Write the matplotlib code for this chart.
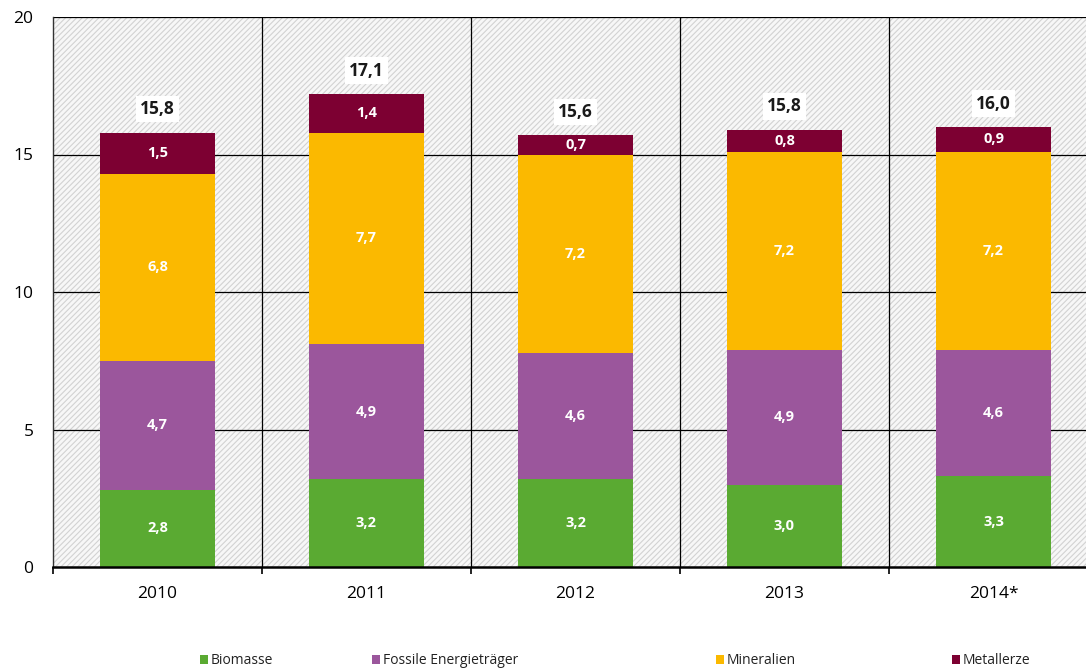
import matplotlib
matplotlib.use("Agg")
import matplotlib.pyplot as plt
from matplotlib.patches import Rectangle
import numpy as np

years = ["2010", "2011", "2012", "2013", "2014*"]
series_names = ["Biomasse", "Fossile Energieträger", "Mineralien", "Metallerze"]
biomasse = [2.8, 3.2, 3.2, 3.0, 3.3]
fossile = [4.7, 4.9, 4.6, 4.9, 4.6]
mineralien = [6.8, 7.7, 7.2, 7.2, 7.2]
metallerze = [1.5, 1.4, 0.7, 0.8, 0.9]
totals = [15.8, 17.1, 15.6, 15.8, 16.0]
yticks = [0, 5, 10, 15, 20]

colors = ["#5aaa32", "#9b569c", "#fbb900", "#7d0032"]
series = [biomasse, fossile, mineralien, metallerze]

plt.rcParams['font.family'] = ['Open Sans', 'DejaVu Sans']
plt.rcParams['hatch.linewidth'] = 0.8
plt.rcParams['hatch.color'] = '#d2d2d2'

fig = plt.figure(figsize=(10.86, 6.70), dpi=100)
ax = fig.add_axes([53/1086, 1-567/670, 1-53/1086, (567-17)/670])

x = np.arange(len(years))
xmax = (1086-53)/209 - 0.5
ax.set_xlim(-0.5, xmax)
ax.set_ylim(0, 20)

# hatched background
bg = Rectangle((0, 0), 1, 1, transform=ax.transAxes, facecolor='#f7f7f7',
               edgecolor='#d2d2d2', hatch='//////', linewidth=0, zorder=0)
ax.add_patch(bg)
ax.set_facecolor('white')

# grid
for yv in yticks[1:]:
    ax.axhline(yv, color='black', lw=0.9, zorder=1)
for b in np.arange(0.5, xmax, 1.0):
    ax.axvline(b, color='black', lw=0.9, zorder=1)

bottom = np.zeros(len(years))
for vals, c in zip(series, colors):
    vals = np.array(vals)
    ax.bar(x, vals, bottom=bottom, width=0.55, color=c, edgecolor='none', zorder=3)
    for xi, v, b0 in zip(x, vals, bottom):
        ax.text(xi, b0 + v/2, f"{v:.1f}".replace('.', ','), ha='center', va='center',
                color='white', fontsize=10.5, fontweight='bold', zorder=4)
    bottom += vals

for xi, t, top in zip(x, totals, bottom):
    ax.text(xi, top + 0.85, f"{t:.1f}".replace('.', ','), ha='center', va='center',
            color='#1a1a1a', fontsize=12.5, fontweight='bold', zorder=4,
            bbox=dict(facecolor='white', edgecolor='none', pad=3))

for s in ['top', 'right']:
    ax.spines[s].set_visible(False)
ax.spines['left'].set_color('#333333')
ax.spines['left'].set_linewidth(1.0)
ax.spines['bottom'].set_linewidth(1.8)
ax.spines['bottom'].set_color('black')
ax.spines['left'].set_zorder(5)
ax.spines['bottom'].set_zorder(5)

ax.set_yticks(yticks)
ax.set_yticklabels([str(v) for v in yticks], fontsize=12.5)
ax.tick_params(axis='y', length=0, pad=14)
ax.set_xticks(x)
ax.set_xticklabels(years, fontsize=12.5)
ax.tick_params(axis='x', which='major', length=0, pad=14)
ax.set_xticks(np.concatenate([[-0.5], np.arange(0.5, xmax, 1.0)]), minor=True)
ax.tick_params(axis='x', which='minor', length=5, width=1.2, direction='out')

# legend
leg_x = [200, 372, 716, 952]
for lx, name, c in zip(leg_x, series_names, colors):
    fig.add_artist(Rectangle((lx/1086, 1-664/670), 8/1086, 9/670, transform=fig.transFigure,
                             facecolor=c, edgecolor='none'))
    fig.text((lx+11)/1086, 1-664/670, name, ha='left', va='baseline', fontsize=10, color='#222222')

fig.savefig("out.png", dpi=100)
